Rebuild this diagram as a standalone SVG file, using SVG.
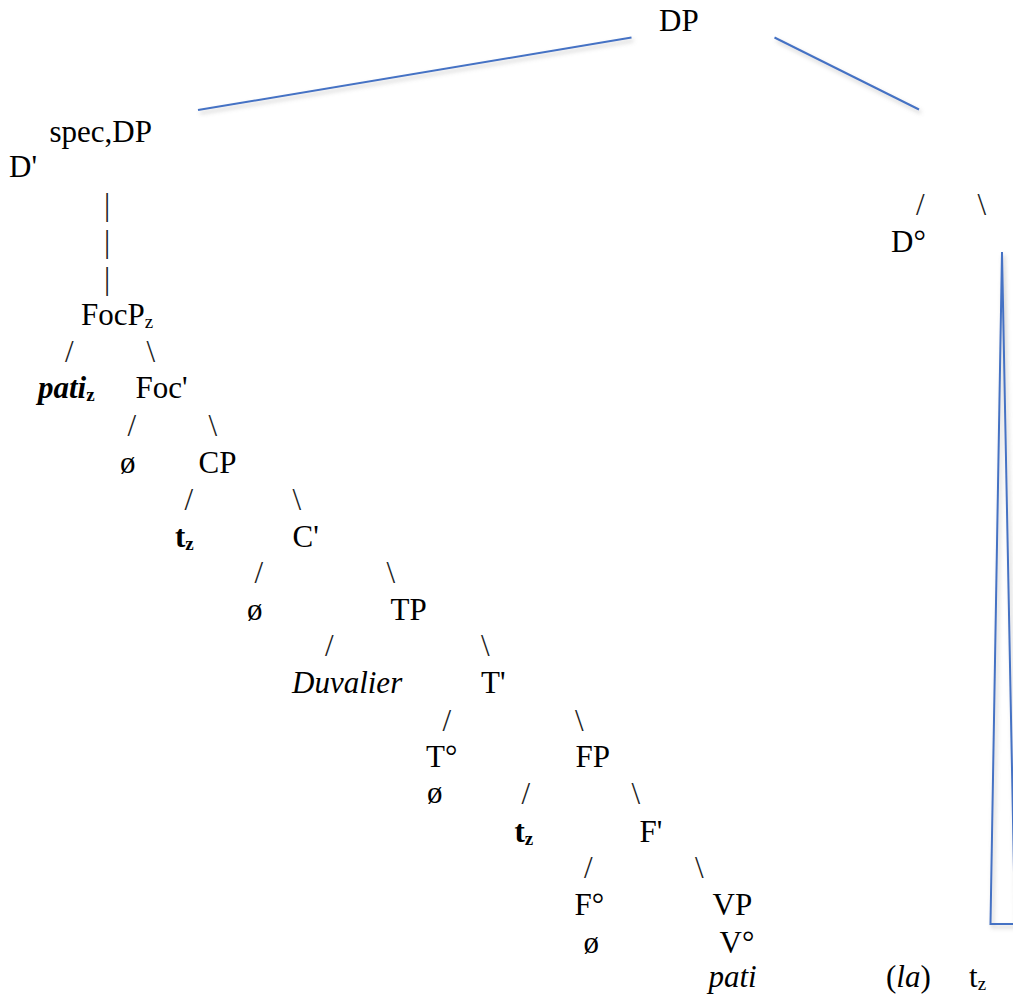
<svg xmlns="http://www.w3.org/2000/svg" width="1013" height="996" viewBox="0 0 1013 996">
<defs>
<style>
text{font-size:31px;fill:#000}
.i{font-style:italic}
.b{font-weight:bold}
.sub{font-size:19px}
.br{fill:#222}
.bl{stroke:#4472C4;stroke-width:2;fill:none;filter:url(#sh)}
</style>
<filter id="sh" x="-20%" y="-20%" width="140%" height="140%">
<feDropShadow dx="2" dy="3" stdDeviation="2" flood-color="#888" flood-opacity="0.45"/>
</filter>
</defs>
<rect width="1013" height="996" fill="#fff"/>
<g font-family="Liberation Serif">
<g id="connectors">
<line class="bl" x1="198" y1="110" x2="631.5" y2="37.5"/>
<line class="bl" x1="774.5" y1="37.5" x2="919" y2="109.5"/>
<line class="bl" x1="912.3" y1="282" x2="912.3" y2="931"/>
<polyline class="bl" points="1016,924 990.5,924 1002,252 1015,924"/>
<text class="br" x="104" y="214.5">|</text>
<text class="br" x="104" y="251.5">|</text>
<text class="br" x="104" y="288.5">|</text>
<text class="br" x="65" y="362">/</text>
<text class="br" x="146.5" y="362">\</text>
<text class="br" x="127.5" y="436">/</text>
<text class="br" x="208.5" y="436">\</text>
<text class="br" x="184.5" y="510">/</text>
<text class="br" x="292.5" y="510">\</text>
<text class="br" x="254.5" y="583">/</text>
<text class="br" x="386.5" y="583">\</text>
<text class="br" x="325" y="656">/</text>
<text class="br" x="481" y="656">\</text>
<text class="br" x="442.5" y="730.5">/</text>
<text class="br" x="575" y="730.5">\</text>
<text class="br" x="521.5" y="804">/</text>
<text class="br" x="631.5" y="804">\</text>
<text class="br" x="584" y="878">/</text>
<text class="br" x="695" y="878">\</text>
<text class="br" x="916" y="215">/</text>
<text class="br" x="977.5" y="215">\</text>
</g>
<g id="n-dp"><text x="659" y="31">DP</text></g>
<g id="n-specdp"><text x="49.5" y="142">spec,DP</text></g>
<g id="n-dbar"><text x="9" y="177">D'</text></g>
<g id="n-focp"><text x="81" y="325">FocP<tspan class="sub" dy="3">z</tspan></text></g>
<g id="n-pati-z"><text class="b i" x="38" y="398">pati<tspan class="sub" style="font-style:normal" dy="3">z</tspan></text></g>
<g id="n-focbar"><text x="135.5" y="398">Foc'</text></g>
<g id="n-null1"><text x="120" y="472.7">ø</text></g>
<g id="n-cp"><text x="198.5" y="472.7">CP</text></g>
<g id="n-tz1"><text class="b" x="175" y="546.7">t<tspan class="sub" dy="3">z</tspan></text></g>
<g id="n-cbar"><text x="292.5" y="546.7">C'</text></g>
<g id="n-null2"><text x="247" y="619.5">ø</text></g>
<g id="n-tp"><text x="390.5" y="620">TP</text></g>
<g id="n-duvalier"><text class="i" x="292" y="693">Duvalier</text></g>
<g id="n-tbar"><text x="481" y="693">T'</text></g>
<g id="n-t0"><text x="426" y="766.7">T°</text></g>
<g id="n-fp"><text x="575.5" y="766.7">FP</text></g>
<g id="n-null3"><text x="427" y="803">ø</text></g>
<g id="n-tz2"><text class="b" x="514.5" y="841.5">t<tspan class="sub" dy="3">z</tspan></text></g>
<g id="n-fbar"><text x="639.5" y="841.5">F'</text></g>
<g id="n-f0"><text x="574.5" y="915">F°</text></g>
<g id="n-vp"><text x="712.5" y="915">VP</text></g>
<g id="n-null4"><text x="583.5" y="952.5">ø</text></g>
<g id="n-v0"><text x="719.5" y="952.5">V°</text></g>
<g id="n-pati"><text class="i" x="708.5" y="986.5">pati</text></g>
<g id="n-d0"><text x="891" y="251.7">D°</text></g>
<g id="n-la"><text x="886" y="987">(<tspan class="i">la</tspan>)</text></g>
<g id="n-tz3"><text x="969" y="987">t<tspan class="sub" dy="3">z</tspan></text></g>
</g>
</svg>
